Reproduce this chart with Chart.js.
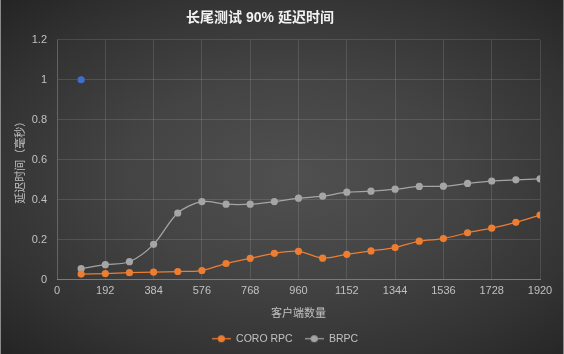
<!DOCTYPE html>
<html>
<head>
<meta charset="utf-8">
<script src="https://cdn.jsdelivr.net/npm/chart.js@4.4.1/dist/chart.umd.min.js"></script>
<style>
  html, body { margin: 0; padding: 0; background: #2a2a2a; }
  #wrap {
    position: relative; width: 564px; height: 354px; overflow: hidden;
    background: radial-gradient(ellipse farthest-corner at 52% 50%, #505050 0%, #444444 40%, #333333 75%, #242424 100%);
  }
  #wrap canvas { position: absolute; left: 0; top: 0; }
  .edge { position: absolute; top: 0; width: 1px; height: 354px; background: #8a8a8a; }
</style>
</head>
<body>
<div id="wrap">
  <canvas id="c" width="564" height="354"></canvas>
  <div class="edge" style="left:0"></div>
  <div class="edge" style="left:563px"></div>
</div>
<script>
const titleText = '长尾测试 90% 延迟时间';
const xTitle = '客户端数量';
const yTitle = '延迟时间（毫秒）';
const seriesNames = ['CORO RPC', 'BRPC'];
const clients = [96, 192, 288, 384, 480, 576, 672, 768, 864, 960, 1056, 1152, 1248, 1344, 1440, 1536, 1632, 1728, 1824, 1920];
const coroRpc = [0.027, 0.03, 0.034, 0.037, 0.04, 0.045, 0.08, 0.106, 0.131, 0.141, 0.107, 0.126, 0.143, 0.16, 0.192, 0.205, 0.234, 0.257, 0.286, 0.323];
const brpc = [0.054, 0.074, 0.089, 0.176, 0.333, 0.39, 0.377, 0.377, 0.39, 0.407, 0.417, 0.437, 0.442, 0.452, 0.466, 0.467, 0.481, 0.493, 0.499, 0.504];
const extraX = [96];
const extraY = [1.0];
const xTicks = [0, 192, 384, 576, 768, 960, 1152, 1344, 1536, 1728, 1920];

const ORANGE = '#ED7D31';
const GRAY = '#A5A5A5';
const BLUE = '#3F6FCB';
const TEXT = '#C0C0C0';
const FONT = '"Liberation Sans", "Noto Sans CJK SC", sans-serif';

function legendIcon(color) {
  const c = document.createElement('canvas');
  c.width = 19; c.height = 9;
  const g = c.getContext('2d');
  g.strokeStyle = color; g.lineWidth = 1.25;
  g.beginPath(); g.moveTo(0, 4.5); g.lineTo(19, 4.5); g.stroke();
  g.fillStyle = color;
  g.beginPath(); g.arc(9.5, 4.5, 3.6, 0, Math.PI * 2); g.fill();
  return c;
}

const pts = (xs, ys) => xs.map((x, i) => ({ x: x, y: ys[i] }));

const titleShift = {
  id: 'titleShift',
  afterLayout(chart) {
    const t = chart.titleBlock;
    if (t) { t.left -= 22; t.right -= 22; }
    const l = chart.legend;
    if (l) { l.left += 3; l.right += 3; if (l.legendHitBoxes) l.legendHitBoxes.forEach(b => { b.left += 3; }); }
  }
};

new Chart(document.getElementById('c'), {
  type: 'scatter',
  data: {
    datasets: [
      { label: seriesNames[0], data: pts(clients, coroRpc), showLine: true, tension: 0.3,
        borderColor: ORANGE, backgroundColor: ORANGE, borderWidth: 1.25,
        pointRadius: 3.6, pointHoverRadius: 3.6, pointBackgroundColor: ORANGE, pointBorderColor: ORANGE, pointBorderWidth: 0,
        pointStyle: 'circle', legendIcon: legendIcon(ORANGE) },
      { label: seriesNames[1], data: pts(clients, brpc), showLine: true, tension: 0.3,
        borderColor: GRAY, backgroundColor: GRAY, borderWidth: 1.25,
        pointRadius: 3.6, pointHoverRadius: 3.6, pointBackgroundColor: GRAY, pointBorderColor: GRAY, pointBorderWidth: 0,
        pointStyle: 'circle', legendIcon: legendIcon(GRAY) },
      { label: 'extra', data: pts(extraX, extraY), showLine: false,
        pointRadius: 3.6, pointBackgroundColor: BLUE, pointBorderColor: BLUE, pointBorderWidth: 0, backgroundColor: BLUE }
    ]
  },
  plugins: [titleShift],
  options: {
    responsive: false,
    animation: false,
    layout: { padding: { left: 0, right: 0, top: 0, bottom: 0 } },
    plugins: {
      title: { display: true, text: titleText, color: '#F2F2F2',
        font: { family: FONT, size: 14, weight: 'bold' }, padding: { top: 10, bottom: 13 } },
      legend: { position: 'bottom',
        labels: { color: TEXT, font: { family: FONT, size: 10.5 }, usePointStyle: true, pointStyleWidth: 19, padding: 12,
          filter: (item) => item.datasetIndex < 2,
          generateLabels: (chart) => chart.data.datasets.map((ds, i) => ({
            text: ds.label, fillStyle: ds.borderColor, strokeStyle: ds.borderColor, fontColor: TEXT,
            pointStyle: ds.legendIcon || 'circle', lineWidth: 0, hidden: false, datasetIndex: i })) } },
      tooltip: { enabled: false }
    },
    scales: {
      x: { type: 'linear', min: 0, max: 1920,
        afterBuildTicks: (s) => { s.ticks = xTicks.map(v => ({ value: v })); },
        afterFit: (s) => { s.height = 42; s.paddingRight = 24; },
        ticks: { color: TEXT, font: { family: FONT, size: 11 }, padding: 5, maxRotation: 0, autoSkip: false,
          callback: (v) => String(v) },
        grid: { color: 'rgba(255,255,255,0.12)', drawTicks: false },
        border: { color: '#7A7A7A', width: 1 },
        title: { display: true, text: xTitle, color: TEXT, font: { family: FONT, size: 11 }, padding: { top: 0, bottom: 1 } } },
      y: { type: 'linear', min: 0, max: 1.2,
        ticks: { stepSize: 0.2, color: TEXT, font: { family: FONT, size: 11 }, padding: 10,
          callback: (v) => String(Number(v.toFixed(1))) },
        afterFit: (s) => { s.width = 57; },
        grid: { color: 'rgba(255,255,255,0.12)', drawTicks: false },
        border: { color: 'rgba(255,255,255,0.12)' },
        title: { display: true, text: yTitle, color: TEXT, font: { family: FONT, size: 11 }, padding: { top: 14, bottom: 0 } } }
    }
  }
});
</script>
</body>
</html>
